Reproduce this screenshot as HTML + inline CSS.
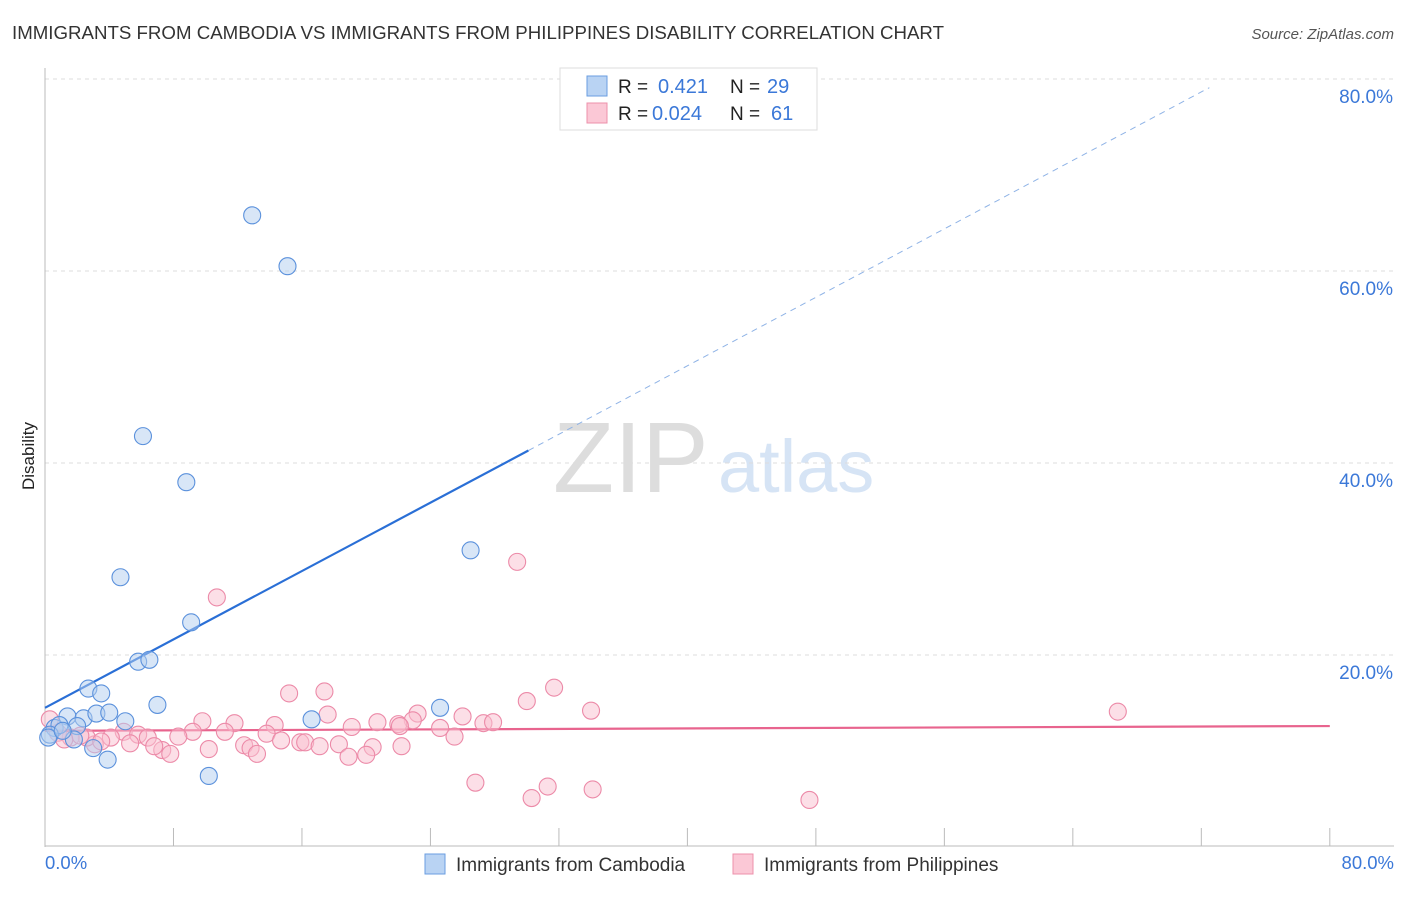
<!DOCTYPE html>
<html><head><meta charset="utf-8"><style>
body{margin:0;background:#fff;font-family:"Liberation Sans",sans-serif;}
svg text{font-family:"Liberation Sans",sans-serif;}
</style></head><body>
<svg id="chart" width="1406" height="892">
<text x="12" y="39" font-size="18.5" fill="#333" textLength="932" lengthAdjust="spacingAndGlyphs">IMMIGRANTS FROM CAMBODIA VS IMMIGRANTS FROM PHILIPPINES DISABILITY CORRELATION CHART</text>
<text x="1394" y="39" font-size="15" fill="#555" font-style="italic" text-anchor="end">Source: ZipAtlas.com</text>
<text x="553" y="492" font-size="100" fill="#ddd" font-family="Liberation Serif">ZIP</text>
<text x="718" y="492" font-size="74" fill="#d6e4f5">atlas</text>
<g id="grid"></g>
<g id="axes"></g>
<text transform="translate(34,456) rotate(-90)" font-size="17" fill="#222" text-anchor="middle">Disability</text>
<text x="45" y="869" font-size="18.5" fill="#3b78d8">0.0%</text>
<text x="1394" y="869" font-size="18.5" fill="#3b78d8" text-anchor="end">80.0%</text>
<g id="lines"></g>
<g id="points"></g>
<g>
<rect x="560" y="68" width="257" height="62" fill="#fff" stroke="#ddd"/>
<rect x="587" y="76" width="20" height="20" fill="#b9d3f3" stroke="#6a9ee0"/>
<text x="618" y="93" font-size="19" fill="#222">R = </text><text x="658" y="93" font-size="20" fill="#3b78d8">0.421</text>
<text x="730" y="93" font-size="19" fill="#222">N = </text><text x="767" y="93" font-size="20" fill="#3b78d8">29</text>
<rect x="587" y="103" width="20" height="20" fill="#fbc8d6" stroke="#ec90ab"/>
<text x="618" y="120" font-size="19" fill="#222">R = </text><text x="652" y="120" font-size="20" fill="#3b78d8">0.024</text>
<text x="730" y="120" font-size="19" fill="#222">N = </text><text x="771" y="120" font-size="20" fill="#3b78d8">61</text>
</g>
<g>
<rect x="425" y="854" width="20" height="20" fill="#b9d3f3" stroke="#6a9ee0"/>
<text x="456" y="871" font-size="19" fill="#333">Immigrants from Cambodia</text>
<rect x="733" y="854" width="20" height="20" fill="#fbc8d6" stroke="#ec90ab"/>
<text x="764" y="871" font-size="19" fill="#333">Immigrants from Philippines</text>
</g>
</svg>
<script>
const yTicks=[20,40,60,80];
const yTickLabels=["20.0%","40.0%","60.0%","80.0%"];
const xTicks=[0,8,16,24,32,40,48,56,64,72,80];
const cambodiaX=[12.9,15.1,6.1,8.8,26.5,4.7,9.1,5.8,6.5,2.7,3.5,7.0,24.6,16.6,1.4,2.4,3.2,4.0,5.0,2.0,0.6,0.9,0.3,1.8,3.0,3.9,10.2,0.2,1.1];
const cambodiaY=[65.8,60.5,42.8,38.0,30.9,28.1,23.4,19.3,19.5,16.5,16.0,14.8,14.5,13.3,13.6,13.4,13.9,14.0,13.1,12.6,12.4,12.7,11.7,11.2,10.3,9.1,7.4,11.4,12.1];
const philX=[29.4,10.7,31.7,15.2,17.4,30.0,34.0,66.8,26.0,23.2,17.6,9.8,11.8,14.3,20.7,22.9,22.0,27.3,27.9,24.6,13.8,11.2,9.2,8.3,4.9,5.8,4.1,6.4,25.5,19.1,22.1,15.9,16.2,14.7,12.4,12.8,13.2,10.2,7.3,7.8,18.3,20.4,22.2,18.9,20.0,5.3,3.1,2.6,1.6,0.8,0.3,2.2,26.8,31.3,30.3,34.1,47.6,6.8,1.2,3.5,17.1];
const philY=[29.7,26.0,16.6,16.0,16.2,15.2,14.2,14.1,13.6,13.9,13.8,13.1,12.9,12.7,13.0,13.2,12.8,12.9,13.0,12.4,11.8,12.0,12.0,11.5,12.0,11.7,11.4,11.4,11.5,12.5,12.6,10.9,10.9,11.1,10.6,10.3,9.7,10.2,10.1,9.7,10.7,10.4,10.5,9.4,9.6,10.8,10.7,11.4,11.4,11.9,13.3,11.6,6.7,6.3,5.1,6.0,4.9,10.5,11.2,11.0,10.5];
const cambodiaTrend=[[0,14.5],[30.1,41.3],[72.5,79.1]];
const philTrend=[[0,12.1],[80,12.6]];
const NS="http://www.w3.org/2000/svg";
const X=v=>45+v*16.06, Y=v=>847-v*9.6;
function mk(t,a,p){const e=document.createElementNS(NS,t);for(const k in a)e.setAttribute(k,a[k]);document.getElementById(p).appendChild(e);return e;}
yTicks.forEach((t,i)=>{
 const l=mk('line',{x1:45,x2:1394,y1:Y(t),y2:Y(t),stroke:'#ddd','stroke-dasharray':'4,4'},'grid');
 
 
 const tx=mk('text',{x:1393,y:Y(t)+24,'font-size':19,fill:'#3b78d8','text-anchor':'end'},'grid');
 tx.textContent=yTickLabels[i];
 
 
});
const ya=mk('line',{x1:45,x2:45,y1:68,y2:847,stroke:'#bbb'},'axes');


const xa=mk('line',{x1:45,x2:1394,y1:846,y2:846,stroke:'#bbb'},'axes');


xTicks.forEach(t=>{const l=mk('line',{x1:X(t),x2:X(t),y1:828,y2:846,stroke:'#bbb'},'axes');
 
 });
function pts(xs,ys,fill,stroke,name){xs.forEach((x,i)=>{const c=mk('circle',{cx:X(x),cy:Y(ys[i]),r:8.5,fill:fill,'fill-opacity':0.5,stroke:stroke,'stroke-width':1.1},'points');
 
 });}
pts(philX,philY,'#f9bfd0','#ec8aa8','point-philippines');
pts(cambodiaX,cambodiaY,'#b2cdf0','#5b91dc','point-cambodia');
const t1=mk('line',{x1:X(cambodiaTrend[0][0]),y1:Y(cambodiaTrend[0][1]),x2:X(cambodiaTrend[1][0]),y2:Y(cambodiaTrend[1][1]),stroke:'#2a6fd6','stroke-width':2.2},'lines');


const t2=mk('line',{x1:X(cambodiaTrend[1][0]),y1:Y(cambodiaTrend[1][1]),x2:X(cambodiaTrend[2][0]),y2:Y(cambodiaTrend[2][1]),stroke:'#8fb3e6','stroke-width':1,'stroke-dasharray':'6,5'},'lines');


const t3=mk('line',{x1:X(philTrend[0][0]),y1:Y(philTrend[0][1]),x2:X(philTrend[1][0]),y2:Y(philTrend[1][1]),stroke:'#e8648e','stroke-width':2.2},'lines');


</script>
</body></html>
